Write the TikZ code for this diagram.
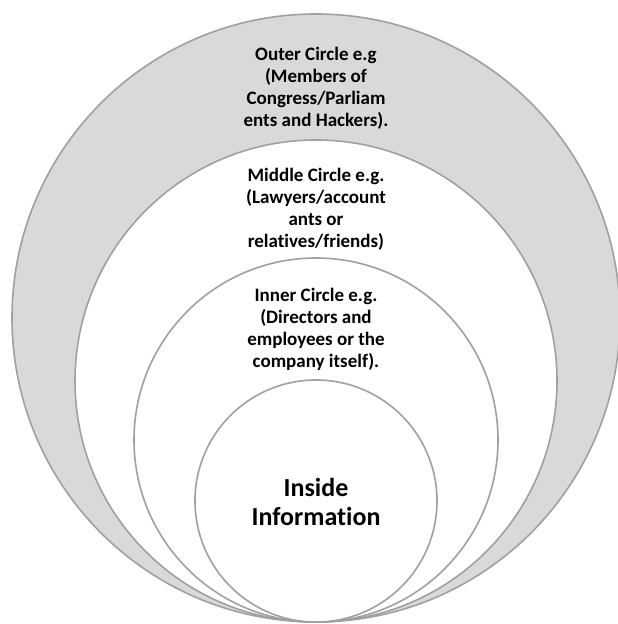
\documentclass[tikz,border=0pt]{standalone}
\usepackage{fontspec}
\setmainfont{Carlito}[Ligatures={NoCommon}]
\definecolor{ringfill}{HTML}{D9D9D9}
\definecolor{ringline}{HTML}{A0A0A0}
\begin{document}
\begin{tikzpicture}[x=1pt,y=1pt,
  ring/.style={circle,draw=ringline,line width=1.6pt,inner sep=0pt,minimum size=#1},
  lbl/.style={align=center,font=\bfseries\fontsize{19}{22}\selectfont,text=black,inner sep=0pt},
  biglbl/.style={align=center,font=\bfseries\fontsize{26}{29}\selectfont,text=black,inner sep=0pt}]
\useasboundingbox (0,0) rectangle (618,624);
\clip (0,0) rectangle (618,624);
\node[ring=608pt,fill=ringfill] (outer) at (316,306) {};
\node[ring=482pt,fill=white] (middle) at (316,243) {};
\node[ring=364pt,fill=white] (inner) at (316,184) {};
\node[ring=242pt,fill=white] (core) at (316,123) {};
\node[lbl] (t1) at (316,536) {Outer Circle e.g\\(Members of\\Congress/Parliam\\ents and Hackers).};
\node[lbl] (t2) at (316,415) {Middle Circle e.g.\\(Lawyers/account\\ants or\\relatives/friends)};
\node[lbl] (t3) at (316,295) {Inner Circle e.g.\\(Directors and\\employees or the\\company itself).};
\node[biglbl] (t4) at (316,122) {Inside\\Information};
\end{tikzpicture}
\end{document}
